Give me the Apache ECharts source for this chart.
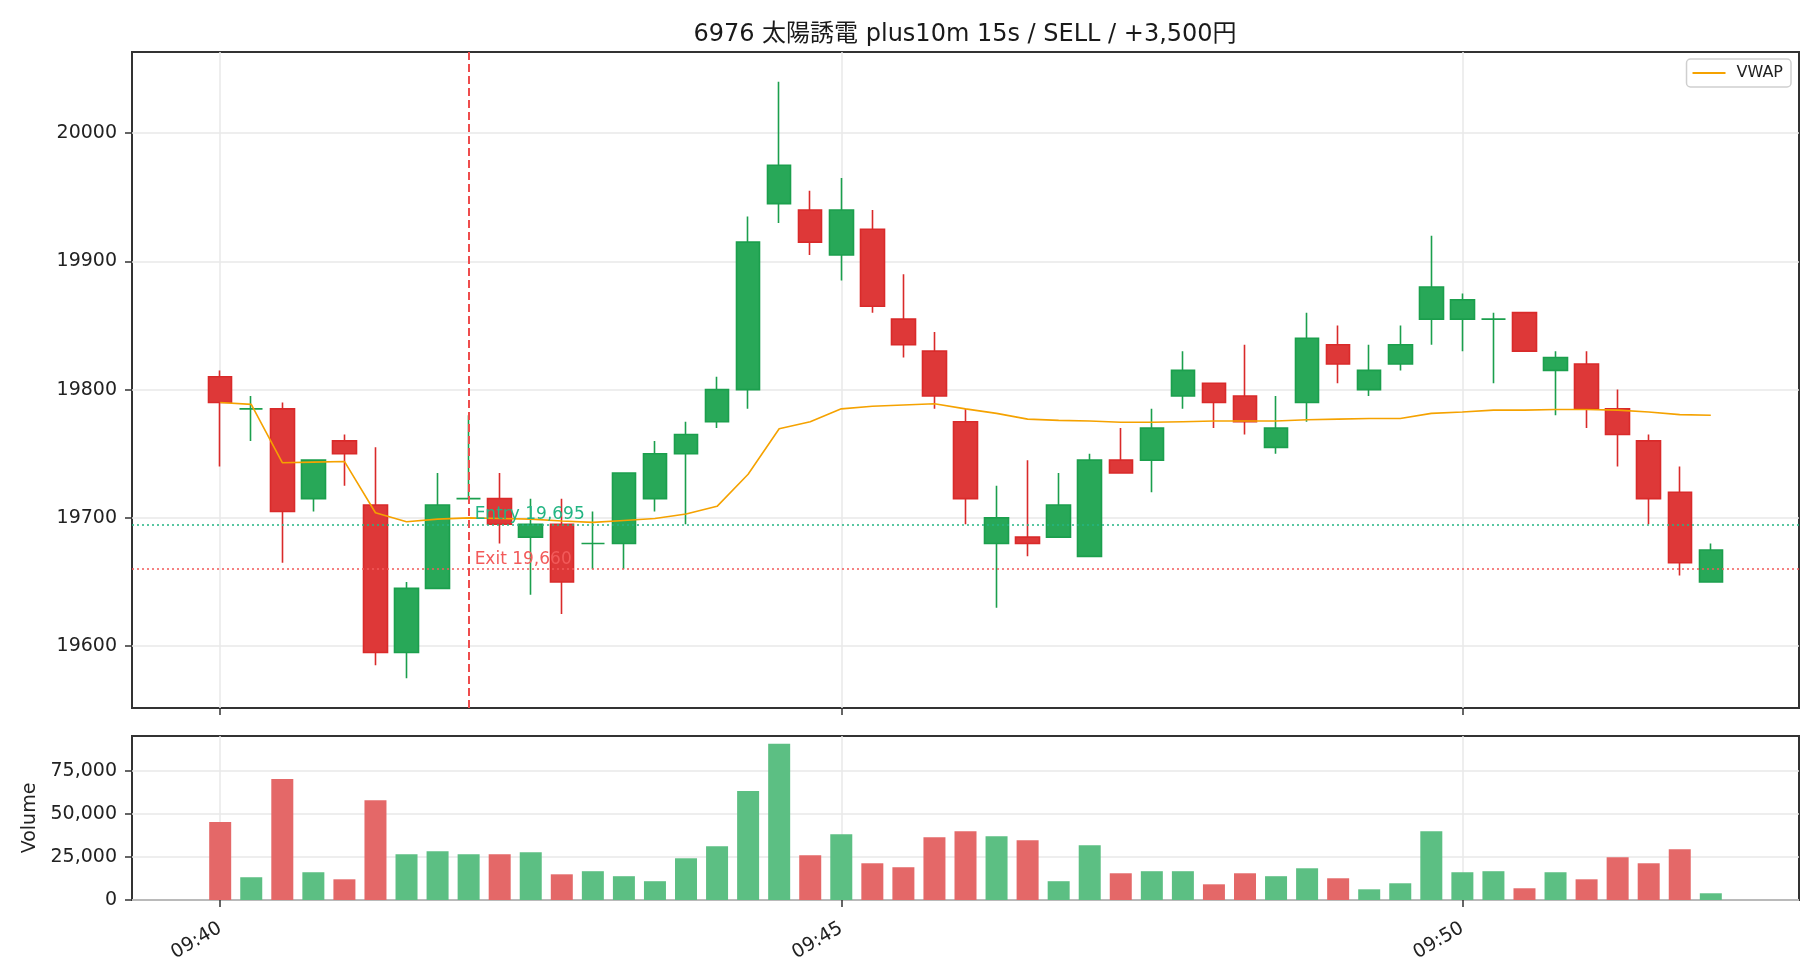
<!DOCTYPE html>
<html>
<head>
<meta charset="utf-8">
<title>6976 太陽誘電 plus10m 15s</title>
<script src="https://cdn.jsdelivr.net/npm/echarts@6/dist/echarts.min.js"></script>
<style>
  html, body { margin: 0; padding: 0; background: #fff; }
  #chart { width: 1820px; height: 980px; }
</style>
</head>
<body>
<div id="chart"></div>
<script>
// 15s bars, 09:40:00 - 09:52:00
const times = [
  "09:40:00", "09:40:15", "09:40:30", "09:40:45", "09:41:00", "09:41:15", "09:41:30", "09:41:45",
  "09:42:00", "09:42:15", "09:42:30", "09:42:45", "09:43:00", "09:43:15", "09:43:30", "09:43:45",
  "09:44:00", "09:44:15", "09:44:30", "09:44:45", "09:45:00", "09:45:15", "09:45:30", "09:45:45",
  "09:46:00", "09:46:15", "09:46:30", "09:46:45", "09:47:00", "09:47:15", "09:47:30", "09:47:45",
  "09:48:00", "09:48:15", "09:48:30", "09:48:45", "09:49:00", "09:49:15", "09:49:30", "09:49:45",
  "09:50:00", "09:50:15", "09:50:30", "09:50:45", "09:51:00", "09:51:15", "09:51:30", "09:51:45",
  "09:52:00",
];
const opens = [
  19810, 19785, 19785, 19715, 19760, 19710, 19595, 19645, 19715, 19715,
  19685, 19695, 19680, 19680, 19715, 19750, 19775, 19800, 19945, 19940,
  19905, 19925, 19855, 19830, 19775, 19680, 19685, 19685, 19670, 19745,
  19745, 19795, 19805, 19795, 19755, 19790, 19835, 19800, 19820, 19855,
  19855, 19855, 19860, 19815, 19820, 19785, 19760, 19720, 19650,
];
const closes = [
  19790, 19785, 19705, 19745, 19750, 19595, 19645, 19710, 19715, 19695,
  19695, 19650, 19680, 19735, 19750, 19765, 19800, 19915, 19975, 19915,
  19940, 19865, 19835, 19795, 19715, 19700, 19680, 19710, 19745, 19735,
  19770, 19815, 19790, 19775, 19770, 19840, 19820, 19815, 19835, 19880,
  19870, 19855, 19830, 19825, 19785, 19765, 19715, 19665, 19675,
];
const highs = [
  19815, 19795, 19790, 19745, 19765, 19755, 19650, 19735, 19780, 19735,
  19715, 19715, 19705, 19735, 19760, 19775, 19810, 19935, 20040, 19955,
  19965, 19940, 19890, 19845, 19785, 19725, 19745, 19735, 19750, 19770,
  19785, 19830, 19805, 19835, 19795, 19860, 19850, 19835, 19850, 19920,
  19875, 19860, 19860, 19830, 19830, 19800, 19765, 19740, 19680,
];
const lows = [
  19740, 19760, 19665, 19705, 19725, 19585, 19575, 19645, 19715, 19680,
  19640, 19625, 19660, 19660, 19705, 19695, 19770, 19785, 19930, 19905,
  19885, 19860, 19825, 19785, 19695, 19630, 19670, 19685, 19670, 19735,
  19720, 19785, 19770, 19765, 19750, 19775, 19805, 19795, 19815, 19835,
  19830, 19805, 19830, 19780, 19770, 19740, 19695, 19655, 19650,
];
const volumes = [
  45200, 13200, 70200, 16100, 12000, 57900, 26600, 28300, 26600, 26600,
  27700, 14900, 16700, 13800, 10900, 24200, 31200, 63200, 90600, 26000,
  38200, 21300, 19000, 36400, 39900, 37000, 34700, 10900, 31800, 15500,
  16700, 16700, 9100, 15500, 13800, 18400, 12600, 6200, 9700, 39900,
  16100, 16700, 6800, 16100, 12000, 24800, 21300, 29500, 3900,
];
const vwap = [
  19790, 19788.5, 19743, 19743.5, 19744, 19704, 19697, 19699, 19700, 19699.5,
  19699, 19697.5, 19696.5, 19698, 19699.5, 19703, 19709, 19734, 19769.5, 19775,
  19785, 19787, 19788, 19789, 19785, 19781.5, 19777, 19776, 19775.5, 19774.5,
  19774.5, 19775, 19775.5, 19775.5, 19775.5, 19776.5, 19777, 19777.5, 19777.5, 19781.5,
  19782.5, 19784, 19784, 19784.5, 19784.5, 19784, 19782.5, 19780.5, 19780,
];
const priceTicks = [19600, 19700, 19800, 19900, 20000];
const volumeTicks = [0, 25000, 50000, 75000];

const entryTime = "09:42:00";
const entryPrice = 19695;
const exitPrice = 19660;
const titleText = "6976 太陽誘電 plus10m 15s / SELL / +3,500円";

const FONT = "'DejaVu Sans', 'Noto Sans CJK JP', sans-serif";
const UP = "#28a858";
const UP_WICK = "#1b9f4d";
const DOWN = "#de3838";
const DOWN_WICK = "#d92a2a";
const VOL_UP = "#5cbf83";
const VOL_DOWN = "#e46868";
const VWAP_C = "#f5a200";
const GRID_LINE = "#e9e9e9";
const FRAME = "#333";
const ENTRY_C = "#23b583";
const EXIT_C = "#f25a5a";

const n = times.length;
const xPad = 0.4 + (n - 1 + 0.8) * 0.05;
const timeTicks = times
  .map((t, i) => (t.endsWith(":00") && Number(t.slice(3, 5)) % 5 === 0 ? i : -1))
  .filter((i) => i >= 0);
const entryIdx = times.indexOf(entryTime);
const lo = Math.min(...lows);
const hi = Math.max(...highs);
const yPad = (hi - lo) * 0.05;
const volMax = Math.max(...volumes) * 1.05;

const candleData = times.map((t, i) => {
  const item = { value: [i, opens[i], closes[i], lows[i], highs[i]] };
  if (opens[i] === closes[i]) {
    item.itemStyle = { color0: UP, borderColor0: UP_WICK };
  }
  return item;
});
const volumeData = times.map((t, i) => ({
  value: [i, volumes[i]],
  itemStyle: { color: closes[i] >= opens[i] ? VOL_UP : VOL_DOWN },
}));
const vwapData = times.map((t, i) => [i, vwap[i]]);

const tickStyle = { show: true, length: 7, lineStyle: { color: FRAME, width: 1.5 } };
const splitStyle = { show: true, lineStyle: { color: GRID_LINE, width: 1.5 } };
const labelStyle = { color: "#222", fontSize: 19, fontFamily: FONT };

const chart = echarts.init(document.getElementById("chart"));
chart.setOption({
  animation: false,
  backgroundColor: "#fff",
  title: {
    text: titleText,
    left: 960,
    top: 18,
    textAlign: "center",
    textStyle: { fontSize: 24, fontWeight: "normal", color: "#1a1a1a", fontFamily: FONT },
  },
  legend: {
    data: [{ name: "VWAP", icon: "rect" }],
    right: 29,
    top: 59,
    itemWidth: 33,
    itemHeight: 2,
    padding: [6, 8, 6, 6],
    borderColor: "#cfcfcf",
    borderWidth: 1.5,
    borderRadius: 4,
    backgroundColor: "#fff",
    textStyle: { fontSize: 16, color: "#222", fontFamily: FONT, padding: [0, 0, 0, 6] },
  },
  grid: [
    { left: 132, right: 21, top: 52, bottom: 272, show: true, borderColor: FRAME, borderWidth: 2 },
    { left: 132, right: 21, top: 736, bottom: 80, show: true, borderColor: FRAME, borderWidth: 2 },
  ],
  xAxis: [
    {
      type: "value",
      gridIndex: 0,
      min: -xPad,
      max: n - 1 + xPad,
      axisLine: { show: false, onZero: false },
      axisTick: { ...tickStyle, customValues: timeTicks },
      axisLabel: { show: false, customValues: timeTicks },
      splitLine: splitStyle,
    },
    {
      type: "value",
      gridIndex: 1,
      min: -xPad,
      max: n - 1 + xPad,
      axisLine: { show: false, onZero: false },
      axisTick: { ...tickStyle, customValues: timeTicks },
      axisLabel: {
        ...labelStyle,
        customValues: timeTicks,
        rotate: 30,
        margin: 27,
        formatter: (v) => times[Math.round(v)].slice(0, 5),
      },
      splitLine: splitStyle,
    },
  ],
  yAxis: [
    {
      type: "value",
      gridIndex: 0,
      min: lo - yPad,
      max: hi + yPad,
      axisLine: { show: false, onZero: false },
      axisTick: { ...tickStyle, customValues: priceTicks },
      axisLabel: { ...labelStyle, customValues: priceTicks, margin: 15, formatter: (v) => String(v) },
      splitLine: splitStyle,
    },
    {
      type: "value",
      gridIndex: 1,
      min: 0,
      max: volMax,
      name: "Volume",
      nameLocation: "middle",
      nameRotate: 90,
      nameGap: 92,
      nameTextStyle: { ...labelStyle },
      axisLine: { show: false, onZero: false },
      axisTick: { ...tickStyle, customValues: volumeTicks },
      axisLabel: {
        ...labelStyle,
        customValues: volumeTicks,
        margin: 15,
        formatter: (v) => v.toLocaleString("en-US"),
      },
      splitLine: splitStyle,
    },
  ],
  series: [
    {
      name: "price",
      type: "candlestick",
      xAxisIndex: 0,
      yAxisIndex: 0,
      encode: { x: 0, y: [1, 2, 3, 4] },
      barWidth: 24,
      itemStyle: {
        color: UP,
        color0: DOWN,
        borderColor: UP_WICK,
        borderColor0: DOWN_WICK,
        borderWidth: 1.6,
      },
      data: candleData,
    },
    {
      name: "VWAP",
      type: "line",
      xAxisIndex: 0,
      yAxisIndex: 0,
      symbol: "none",
      lineStyle: { color: VWAP_C, width: 1.6 },
      itemStyle: { color: VWAP_C },
      data: vwapData,
      markLine: {
        silent: true,
        symbol: ["none", "none"],
        label: { show: false },
        data: [
          { yAxis: entryPrice, lineStyle: { color: ENTRY_C, type: [2, 3], width: 1.5 } },
          { yAxis: exitPrice, lineStyle: { color: EXIT_C, type: [2, 3], width: 1.5 } },
          { xAxis: entryIdx, lineStyle: { color: "#ee4d4d", type: [8, 4], width: 2 } },
        ],
      },
      markPoint: {
        silent: true,
        symbol: "circle",
        symbolSize: 0,
        label: {
          show: true,
          position: "right",
          distance: 6,
          offset: [0, -10],
          fontSize: 17,
          fontFamily: FONT,
        },
        data: [
          {
            coord: [entryIdx, entryPrice],
            label: { formatter: "Entry " + entryPrice.toLocaleString("en-US"), color: ENTRY_C },
          },
          {
            coord: [entryIdx, exitPrice],
            label: { formatter: "Exit " + exitPrice.toLocaleString("en-US"), color: EXIT_C },
          },
        ],
      },
    },
    {
      name: "volume",
      type: "bar",
      xAxisIndex: 1,
      yAxisIndex: 1,
      barWidth: 22,
      data: volumeData,
    },
  ],
});
</script>
</body>
</html>
